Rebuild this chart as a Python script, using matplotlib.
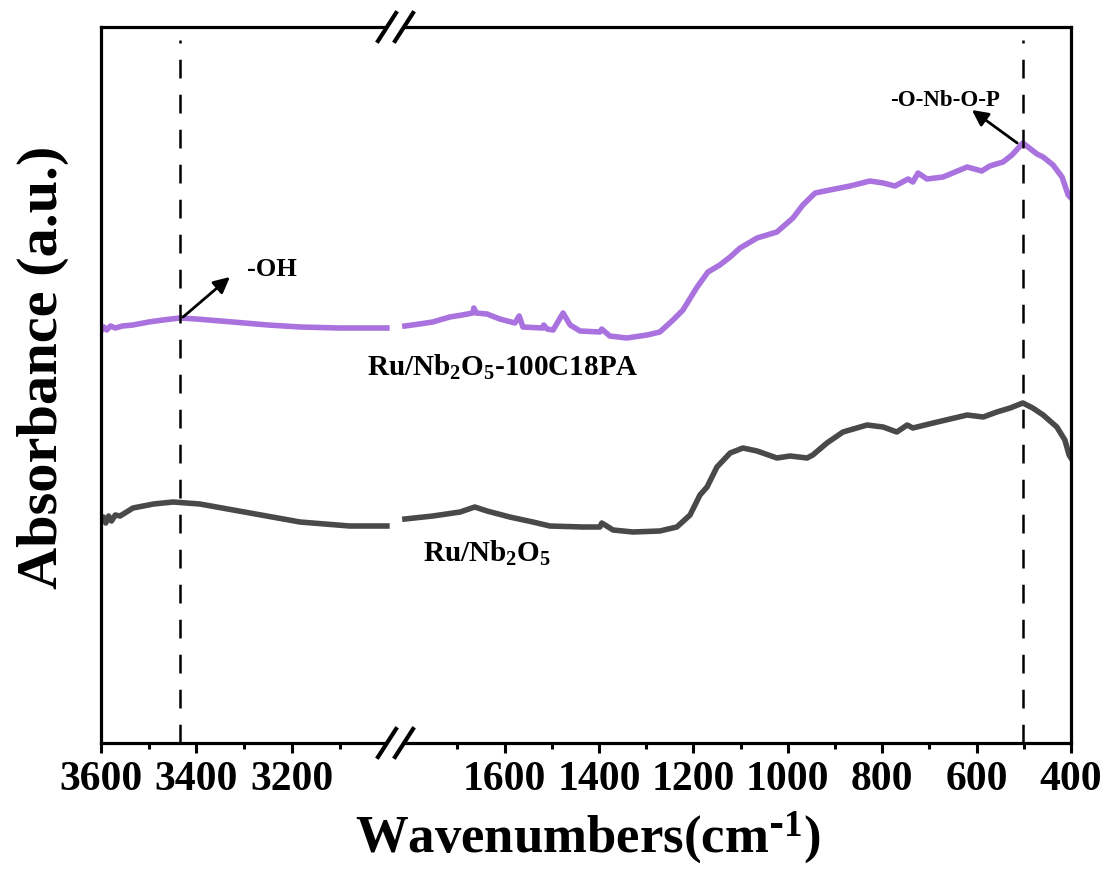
"""
FTIR spectra of Ru/Nb2O5 and Ru/Nb2O5-100C18PA with a broken wavenumber axis
"""

import matplotlib
matplotlib.use('Agg')
import matplotlib.pyplot as plt
from matplotlib.lines import Line2D

plt.rcParams['font.family'] = 'Liberation Serif'
plt.rcParams['font.weight'] = 'bold'
plt.rcParams['mathtext.default'] = 'regular'

PURPLE = '#A972DE'
GRAY = '#494949'

# high wavenumber window (3600 - 3000 cm-1)
wn_hi_c18 = [3600, 3594, 3588, 3580, 3570, 3555, 3533, 3500, 3470, 3435, 3400,
             3324, 3250, 3183, 3100, 3001]
abs_hi_c18 = [4.12, 4.16, 4.13, 4.17, 4.15, 4.17, 4.18, 4.21, 4.23, 4.25, 4.24,
              4.21, 4.18, 4.16, 4.15, 4.15]
wn_hi_ru = [3600, 3595, 3590, 3584, 3578, 3570, 3560, 3533, 3490, 3449, 3393,
            3288, 3183, 3079, 3001]
abs_hi_ru = [2.21, 2.26, 2.20, 2.27, 2.22, 2.28, 2.27, 2.35, 2.39, 2.41, 2.39,
             2.30, 2.21, 2.17, 2.17]

# low wavenumber window (1830 - 400 cm-1)
wn_lo_c18 = [1811, 1780, 1752, 1716, 1690, 1667, 1665, 1660, 1637, 1610, 1578,
             1569, 1561, 1519, 1517, 1510, 1497, 1476, 1461, 1440, 1398, 1394,
             1377, 1341, 1298, 1271, 1243, 1222, 1192, 1169, 1144, 1122, 1101,
             1065, 1023, 989, 968, 942, 911, 868, 826, 798, 773, 745, 735, 724,
             705, 671, 620, 589, 572, 544, 525, 502, 472, 459, 438, 419, 406, 400]
abs_lo_c18 = [4.17, 4.19, 4.21, 4.26, 4.28, 4.30, 4.35, 4.30, 4.29, 4.24, 4.20,
              4.27, 4.16, 4.15, 4.18, 4.14, 4.13, 4.30, 4.18, 4.12, 4.11, 4.14,
              4.07, 4.05, 4.08, 4.11, 4.23, 4.33, 4.56, 4.71, 4.78, 4.86, 4.95,
              5.05, 5.11, 5.25, 5.38, 5.50, 5.53, 5.57, 5.62, 5.60, 5.57, 5.64,
              5.61, 5.70, 5.64, 5.66, 5.76, 5.72, 5.77, 5.81, 5.88, 6.00, 5.89,
              5.86, 5.78, 5.66, 5.48, 5.45]
wn_lo_ru = [1811, 1752, 1694, 1663, 1637, 1589, 1540, 1504, 1434, 1398, 1394,
            1370, 1328, 1271, 1235, 1207, 1186, 1171, 1150, 1122, 1095, 1065,
            1023, 995, 959, 947, 917, 883, 832, 798, 769, 747, 735, 692, 620,
            586, 557, 529, 502, 481, 459, 430, 413, 404, 400]
abs_lo_ru = [2.24, 2.27, 2.31, 2.36, 2.32, 2.26, 2.21, 2.17, 2.16, 2.16, 2.20,
             2.13, 2.11, 2.12, 2.16, 2.28, 2.48, 2.56, 2.76, 2.90, 2.95, 2.92,
             2.85, 2.87, 2.85, 2.88, 3.00, 3.11, 3.18, 3.16, 3.11, 3.18, 3.15,
             3.20, 3.28, 3.26, 3.31, 3.35, 3.40, 3.35, 3.28, 3.16, 3.03, 2.88,
             2.85]

W, H = 1111, 875


def fx(px):
    return px / W


def fy(py):
    return 1 - py / H


fig = plt.figure(figsize=(11.11, 8.75), dpi=100)
x_left, x_break, x_right = 101, 395, 1071
y_top, y_bot = 27, 743
ax1 = fig.add_axes([fx(x_left), fy(y_bot), fx(x_break - x_left), fy(y_top) - fy(y_bot)])
ax2 = fig.add_axes([fx(x_break), fy(y_bot), fx(x_right - x_break), fy(y_top) - fy(y_bot)])

ax1.plot(wn_hi_c18, abs_hi_c18, color=PURPLE, lw=4)
ax1.plot(wn_hi_ru, abs_hi_ru, color=GRAY, lw=4)
ax2.plot(wn_lo_c18, abs_lo_c18, color=PURPLE, lw=4)
ax2.plot(wn_lo_ru, abs_lo_ru, color=GRAY, lw=4)

ax1.set_xlim(3600, 2984)
ax2.set_xlim(1832, 400)
for ax in (ax1, ax2):
    ax.set_ylim(0, 7.16)
    ax.set_yticks([])
    for spine in ax.spines.values():
        spine.set_linewidth(2.3)
    ax.tick_params(axis='x', which='major', direction='out', length=7, width=2.2,
                   labelsize=30, pad=6)
    ax.tick_params(axis='x', which='minor', direction='out', length=4, width=2.2)
ax1.spines['right'].set_visible(False)
ax2.spines['left'].set_visible(False)

ax1.set_xticks([3600, 3400, 3200])
ax1.set_xticks([3500, 3300, 3100], minor=True)
ax2.set_xticks([1600, 1400, 1200, 1000, 800, 600, 400])
ax2.set_xticks([1700, 1500, 1300, 1100, 900, 700, 500], minor=True)

# marker lines
dash = (0, (7.5, 6.5))
ax1.plot([3435, 3435], [0, 7.03], color='black', lw=1.8, linestyle=dash)
ax2.plot([502, 502], [0, 7.03], color='black', lw=1.8, linestyle=dash)

# annotations
arrow = dict(arrowstyle='-|>', lw=2, color='black', mutation_scale=24,
             shrinkA=0, shrinkB=0)
ax1.annotate('', xy=(3330, 4.66), xytext=(3428, 4.26), arrowprops=arrow)
ax1.text(3294, 4.73, '-OH', fontsize=19, fontweight='bold', ha='left', va='center')
ax2.annotate('', xy=(610, 6.33), xytext=(514, 6.0), arrowprops=arrow)
ax2.text(667, 6.43, '-O-Nb-O-P', fontsize=16.5, fontweight='bold', ha='center', va='center')

ax2.text(1603, 3.76, 'Ru/Nb$_2$O$_5$-100C18PA', fontsize=21, fontweight='bold',
         ha='center', va='center')
ax2.text(1637, 1.90, 'Ru/Nb$_2$O$_5$', fontsize=21, fontweight='bold',
         ha='center', va='center')

fig.text(fx(588), fy(838), 'Wavenumbers(cm$^{\\text{-}1}$)', fontsize=38,
         fontweight='bold', ha='center', va='center')
fig.text(fx(43), fy(367), 'Absorbance (a.u.)', fontsize=42, fontweight='bold',
         ha='center', va='center', rotation=90)

# axis break marks
for yc in (y_top, y_bot):
    fig.add_artist(Line2D([fx(389), fx(402)], [fy(yc), fy(yc)], color='white',
                          lw=4, transform=fig.transFigure))
    for xc in (387, 404):
        fig.add_artist(Line2D([fx(xc - 9), fx(xc + 9)], [fy(yc + 14), fy(yc - 14)],
                              color='black', lw=3, transform=fig.transFigure))

plt.savefig('out.png', dpi=100, facecolor='white')
plt.close()
